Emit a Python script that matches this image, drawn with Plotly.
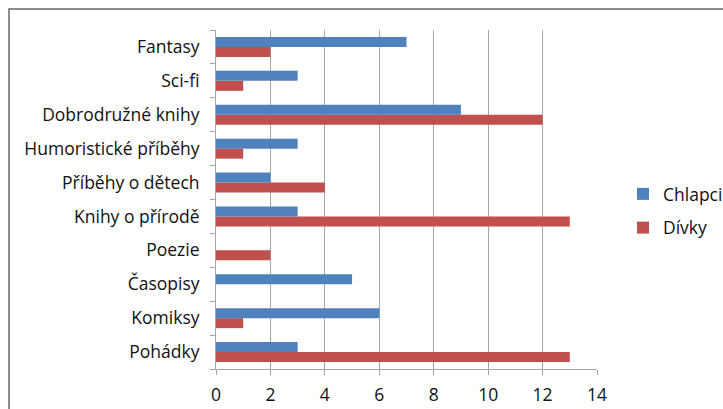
import plotly.graph_objects as go

# Genres, listed bottom-to-top as they appear on the axis
genres = [
    "Pohádky", "Komiksy", "Časopisy", "Poezie", "Knihy o přírodě",
    "Příběhy o dětech", "Humoristické příběhy", "Dobrodružné knihy",
    "Sci-fi", "Fantasy",
]
chlapci = [3, 6, 5, 0, 3, 2, 3, 9, 3, 7]
divky = [13, 1, 0, 2, 13, 4, 1, 12, 1, 2]
x_ticks = [0, 2, 4, 6, 8, 10, 12, 14]

W, H = 723, 409
L, R, T, B = 216, 126, 30, 40
pw, ph = W - L - R, H - T - B

BLUE = "#4F81BD"
RED = "#C0504D"
GRID = "#A6A6A6"
FONT = "Open Sans"
FS = 17.5

fig = go.Figure()
fig.add_trace(go.Bar(
    y=genres, x=divky, name="Dívky", orientation="h",
    marker=dict(color=RED, line=dict(width=0)), legendrank=2,
    legendgroup="d",
))
fig.add_trace(go.Bar(
    y=genres, x=chlapci, name="Chlapci", orientation="h",
    marker=dict(color=BLUE, line=dict(width=0)), legendrank=1,
    legendgroup="c",
))


def px_x(p):
    return (p - L) / pw


def px_y(p):
    return (H - B - p) / ph


# outer chart frame, running off the right and bottom edges
fig.add_shape(
    type="rect", xref="paper", yref="paper",
    x0=px_x(9), x1=px_x(760), y0=px_y(440), y1=px_y(9),
    line=dict(color="#8C8C8C", width=2), fillcolor="rgba(0,0,0,0)",
    layer="below",
)

fig.update_layout(
    width=W, height=H,
    margin=dict(l=L, r=R, t=T, b=B, pad=0, autoexpand=False),
    paper_bgcolor="white", plot_bgcolor="white",
    barmode="group", bargap=0.41, bargroupgap=0,
    font=dict(family=FONT, size=FS, color="#111111"),
    showlegend=True,
    legend=dict(
        x=px_x(623), y=px_y(176), xanchor="left", yanchor="top",
        font=dict(family=FONT, size=FS, color="#111111"),
        tracegroupgap=8, itemsizing="constant", itemwidth=30,
        bgcolor="rgba(0,0,0,0)",
    ),
    xaxis=dict(
        range=[0, 14], tickvals=x_ticks, ticktext=[str(v) for v in x_ticks],
        showgrid=True, gridcolor=GRID, gridwidth=1,
        showline=True, linecolor=GRID, linewidth=1,
        ticks="outside", ticklen=5, tickcolor=GRID,
        ticklabelstandoff=5, zeroline=False, fixedrange=True,
    ),
    yaxis=dict(
        type="category", categoryorder="array", categoryarray=genres,
        showgrid=False, showline=True, linecolor=GRID, linewidth=1,
        ticks="outside", ticklen=5, tickcolor=GRID, tickson="boundaries",
        ticklabelstandoff=12, zeroline=False, fixedrange=True,
    ),
)

fig.write_html("out.html")
